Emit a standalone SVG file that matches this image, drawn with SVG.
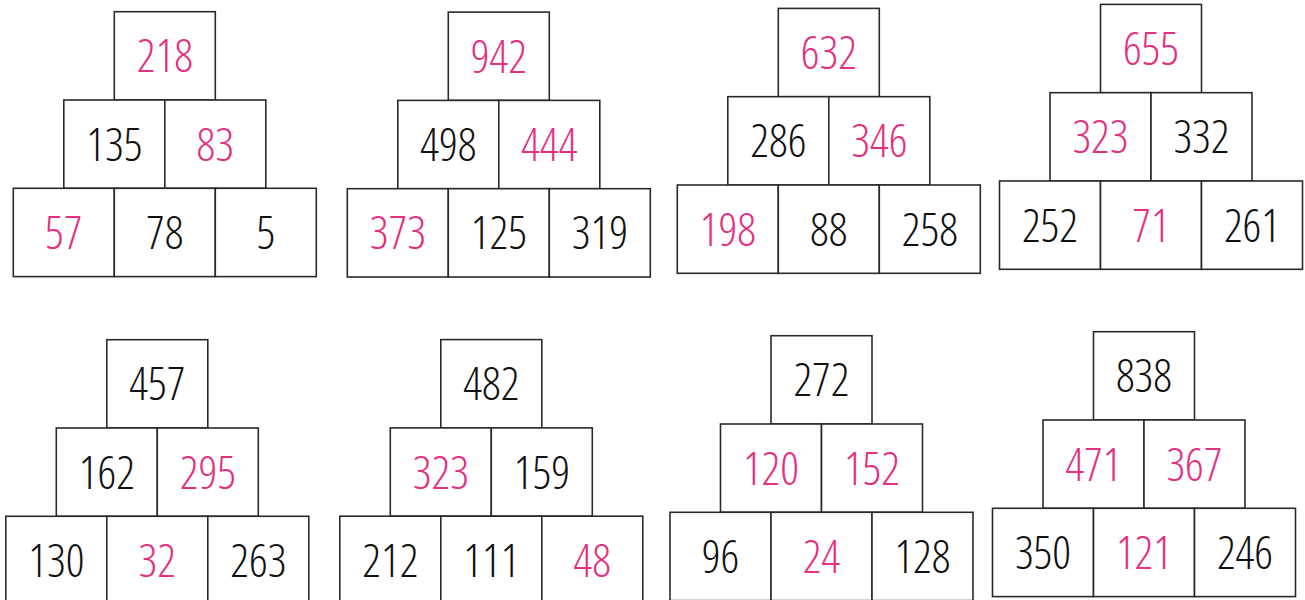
<svg xmlns="http://www.w3.org/2000/svg" width="1305" height="600" viewBox="0 0 1305 600">
<style>
rect{fill:#fff;stroke:#2a2a2a;stroke-width:1.6}
text{font-family:"Open Sans","Liberation Sans",sans-serif;font-weight:300;font-stretch:80%;font-size:46px;text-anchor:middle}
.k{fill:#111}
.p{fill:#e3307f}
</style>
<rect width="1305" height="600" style="stroke:none"/>
<g id="pyramid1">
<rect x="114.3" y="11.7" width="101" height="88.3"/><text class="p" x="164.8" y="72.3">218</text>
<rect x="63.8" y="100" width="101" height="88.3"/><text class="k" x="114.3" y="160.7">135</text>
<rect x="164.8" y="100" width="101" height="88.3"/><text class="p" x="215.3" y="160.7">83</text>
<rect x="13.3" y="188.3" width="101" height="88.3"/><text class="p" x="63.8" y="248.9">57</text>
<rect x="114.3" y="188.3" width="101" height="88.3"/><text class="k" x="164.8" y="248.9">78</text>
<rect x="215.3" y="188.3" width="101" height="88.3"/><text class="k" x="265.8" y="248.9">5</text>
</g>
<g id="pyramid2">
<rect x="448.3" y="12.1" width="101" height="88.3"/><text class="p" x="498.8" y="72.7">942</text>
<rect x="397.8" y="100.4" width="101" height="88.3"/><text class="k" x="448.3" y="161.1">498</text>
<rect x="498.8" y="100.4" width="101" height="88.3"/><text class="p" x="549.3" y="161.1">444</text>
<rect x="347.3" y="188.7" width="101" height="88.3"/><text class="p" x="397.8" y="249.3">373</text>
<rect x="448.3" y="188.7" width="101" height="88.3"/><text class="k" x="498.8" y="249.3">125</text>
<rect x="549.3" y="188.7" width="101" height="88.3"/><text class="k" x="599.8" y="249.3">319</text>
</g>
<g id="pyramid3">
<rect x="778.3" y="8.4" width="101" height="88.3"/><text class="p" x="828.8" y="69">632</text>
<rect x="727.8" y="96.7" width="101" height="88.3"/><text class="k" x="778.3" y="157.4">286</text>
<rect x="828.8" y="96.7" width="101" height="88.3"/><text class="p" x="879.3" y="157.4">346</text>
<rect x="677.3" y="185" width="101" height="88.3"/><text class="p" x="727.8" y="245.6">198</text>
<rect x="778.3" y="185" width="101" height="88.3"/><text class="k" x="828.8" y="245.6">88</text>
<rect x="879.3" y="185" width="101" height="88.3"/><text class="k" x="929.8" y="245.6">258</text>
</g>
<g id="pyramid4">
<rect x="1100.5" y="4.4" width="101" height="88.3"/><text class="p" x="1151" y="65">655</text>
<rect x="1050" y="92.7" width="101" height="88.3"/><text class="p" x="1100.5" y="153.4">323</text>
<rect x="1151" y="92.7" width="101" height="88.3"/><text class="k" x="1201.5" y="153.4">332</text>
<rect x="999.5" y="181" width="101" height="88.3"/><text class="k" x="1050" y="241.6">252</text>
<rect x="1100.5" y="181" width="101" height="88.3"/><text class="p" x="1151" y="241.6">71</text>
<rect x="1201.5" y="181" width="101" height="88.3"/><text class="k" x="1252" y="241.6">261</text>
</g>
<g id="pyramid5">
<rect x="106.8" y="339.7" width="101" height="88.3"/><text class="k" x="157.3" y="400.3">457</text>
<rect x="56.3" y="428" width="101" height="88.3"/><text class="k" x="106.8" y="488.7">162</text>
<rect x="157.3" y="428" width="101" height="88.3"/><text class="p" x="207.8" y="488.7">295</text>
<rect x="5.8" y="516.3" width="101" height="88.3"/><text class="k" x="56.3" y="576.9">130</text>
<rect x="106.8" y="516.3" width="101" height="88.3"/><text class="p" x="157.3" y="576.9">32</text>
<rect x="207.8" y="516.3" width="101" height="88.3"/><text class="k" x="258.3" y="576.9">263</text>
</g>
<g id="pyramid6">
<rect x="440.8" y="339.6" width="101" height="88.3"/><text class="k" x="491.3" y="400.2">482</text>
<rect x="390.3" y="427.9" width="101" height="88.3"/><text class="p" x="440.8" y="488.6">323</text>
<rect x="491.3" y="427.9" width="101" height="88.3"/><text class="k" x="541.8" y="488.6">159</text>
<rect x="339.8" y="516.2" width="101" height="88.3"/><text class="k" x="390.3" y="576.8">212</text>
<rect x="440.8" y="516.2" width="101" height="88.3"/><text class="k" x="491.3" y="576.8">111</text>
<rect x="541.8" y="516.2" width="101" height="88.3"/><text class="p" x="592.3" y="576.8">48</text>
</g>
<g id="pyramid7">
<rect x="771" y="335.7" width="101" height="88.3"/><text class="k" x="821.5" y="396.3">272</text>
<rect x="720.5" y="424" width="101" height="88.3"/><text class="p" x="771" y="484.7">120</text>
<rect x="821.5" y="424" width="101" height="88.3"/><text class="p" x="872" y="484.7">152</text>
<rect x="670" y="512.3" width="101" height="88.3"/><text class="k" x="720.5" y="572.9">96</text>
<rect x="771" y="512.3" width="101" height="88.3"/><text class="p" x="821.5" y="572.9">24</text>
<rect x="872" y="512.3" width="101" height="88.3"/><text class="k" x="922.5" y="572.9">128</text>
</g>
<g id="pyramid8">
<rect x="1093.5" y="331.7" width="101" height="88.3"/><text class="k" x="1144" y="392.3">838</text>
<rect x="1043" y="420" width="101" height="88.3"/><text class="p" x="1093.5" y="480.7">471</text>
<rect x="1144" y="420" width="101" height="88.3"/><text class="p" x="1194.5" y="480.7">367</text>
<rect x="992.5" y="508.3" width="101" height="88.3"/><text class="k" x="1043" y="568.9">350</text>
<rect x="1093.5" y="508.3" width="101" height="88.3"/><text class="p" x="1144" y="568.9">121</text>
<rect x="1194.5" y="508.3" width="101" height="88.3"/><text class="k" x="1245" y="568.9">246</text>
</g>
<g id="connectors"/>
</svg>
